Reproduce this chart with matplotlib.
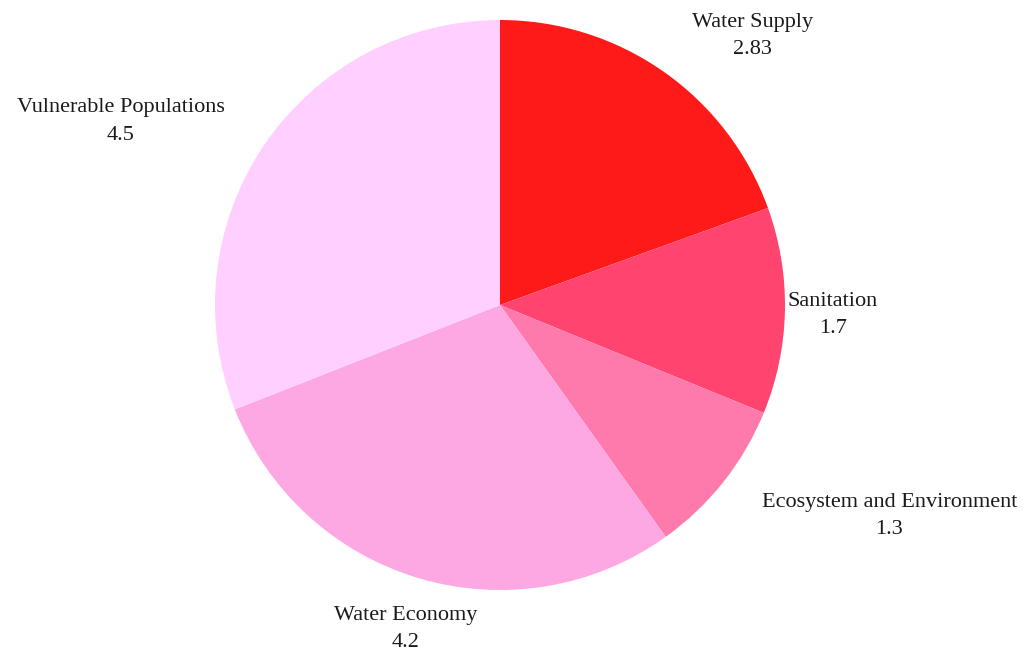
import numpy as np
import matplotlib
matplotlib.use("Agg")
import matplotlib.pyplot as plt

# data
categories = ["Water Supply", "Sanitation", "Ecosystem and Environment",
              "Water Economy", "Vulnerable Populations"]
values = [2.83, 1.7, 1.3, 4.2, 4.5]
value_labels = ["2.83", "1.7", "1.3", "4.2", "4.5"]
colors = ["#FF1A1A", "#FF4470", "#FF7AAC", "#FDA8E2", "#FFCFFF"]

plt.rcParams['font.family'] = ['Liberation Serif', 'DejaVu Serif']

fig = plt.figure(figsize=(10.24, 6.55), dpi=100)
ax = fig.add_axes([0, 0, 1, 1])

labels = [f"{c}\n{v}" for c, v in zip(categories, value_labels)]
wedges, texts = ax.pie(values, colors=colors, startangle=90, counterclock=False,
                       labels=labels, labeldistance=1.17,
                       wedgeprops=dict(linewidth=0),
                       textprops=dict(fontsize=16, color="#1a1a1a",
                                      multialignment="center", linespacing=1.6))

# a few label tweaks to sit like the original
total = sum(values)
cum = np.cumsum([0] + values[:-1])
for i, t in enumerate(texts):
    ang = np.deg2rad(90 - (cum[i] + values[i] / 2) / total * 360)
    d = 1.17
    if categories[i] == "Sanitation":
        d = 1.01
    t.set_position((d * np.cos(ang), d * np.sin(ang) - 0.014))
    if categories[i] == "Water Economy":
        t.set_ha("center")

ax.set_aspect("auto")
r_px = 285
ax.set_xlim(-500 / r_px, 524 / r_px)
ax.set_ylim(-350 / r_px, 305 / r_px)
ax.axis("off")

fig.savefig("out.png", dpi=100)
